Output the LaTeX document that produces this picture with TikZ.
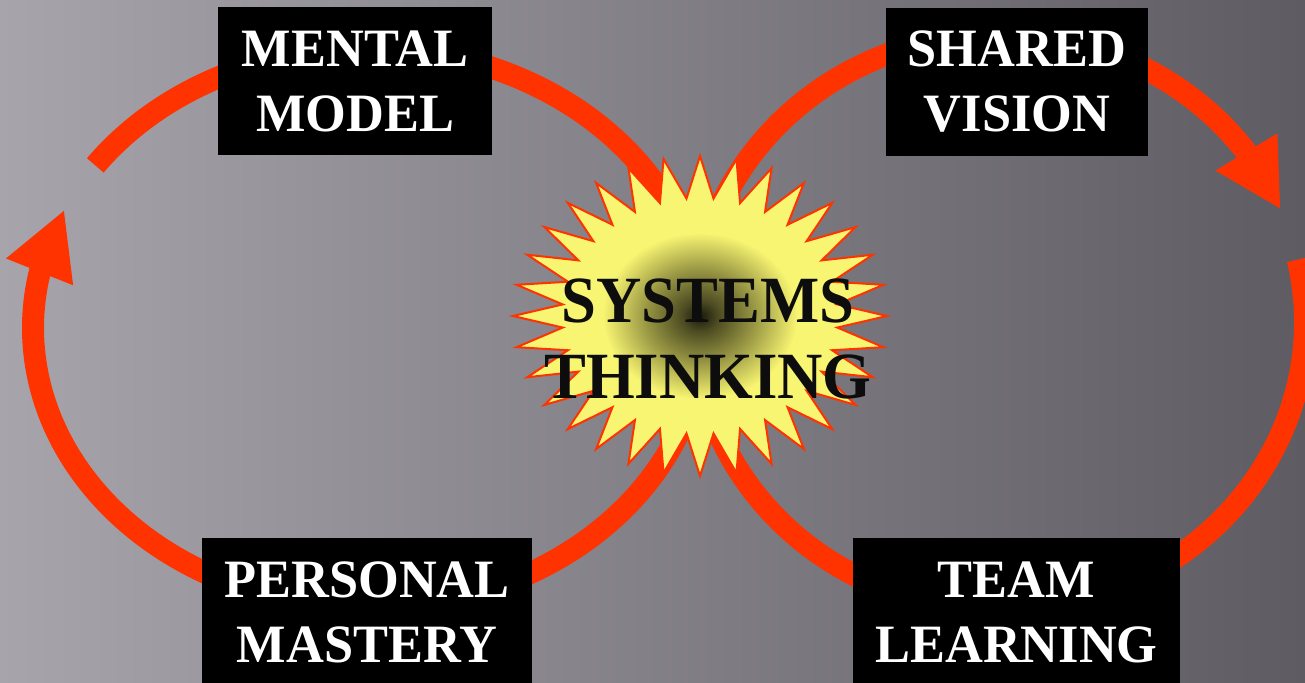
\documentclass[tikz,border=0pt]{standalone}
\usepackage{fontspec}
\setmainfont{Liberation Serif}
\newfontfamily\slidefont{Liberation Serif}[FakeStretch=0.97]
\newfontfamily\burstfont{Liberation Serif}[FakeStretch=0.95]
\usetikzlibrary{arrows.meta,bending}
\definecolor{loopred}{HTML}{FF3300}
\definecolor{burstyellow}{HTML}{F8F572}
\definecolor{burstolive}{HTML}{9C9A45}
\definecolor{burstcore}{HTML}{1A1A0C}
\definecolor{slidelight}{HTML}{A7A4AC}
\definecolor{slidemid}{HTML}{848188}
\definecolor{slidedark}{HTML}{5E5C62}
\pgfdeclareradialshading{burstglow}{\pgfpoint{0bp}{0bp}}{%
  color(0bp)=(burstcore); color(2.5bp)=(burstcore!60!burstolive);
  color(7.5bp)=(burstolive); color(13bp)=(burstyellow); color(50bp)=(burstyellow)}

\begin{document}
\begin{tikzpicture}[x=1pt,y=1pt,
    ring/.style={draw=loopred,line width=22pt},
    ringtip/.style={-{Triangle[length=67pt,width=67pt,flex]}},
    burst/.style={draw=loopred,line width=2pt,shading=burstglow},
    boxlabel/.style={fill=black,text=white,inner sep=0pt,align=center,minimum height=148pt,
      font=\slidefont\bfseries\fontsize{54}{65}\selectfont}]

    \useasboundingbox (0,0) rectangle (1305,682);
    \clip (0,0) rectangle (1305,682);
    \shade[left color=slidelight,middle color=slidemid,right color=slidedark] (0,0) rectangle (1305,682);

    \coordinate (L) at (368,354);
    \coordinate (R) at (1000,360);
    \coordinate (O) at (700,366);

    \draw[ring] ([shift={(144.5:335 and 280)}]L) arc[start angle=144.5,end angle=0,x radius=335,y radius=280];
    \draw[ring,ringtip] ([shift={(360:335 and 280)}]L) arc[start angle=360,end angle=155,x radius=335,y radius=280];
    \draw[ring,ringtip] ([shift={(180:305 and 288)}]R) arc[start angle=180,end angle=23,x radius=305,y radius=288];
    \draw[ring] ([shift={(12.5:305 and 288)}]R) arc[start angle=12.5,end angle=-180,x radius=305,y radius=288];

    \begin{scope}[shift={(O)}]
      \path[burst,shade,draw] (0:187 and 160) \foreach \a in {11.25,22.5,...,360} { -- ({\a-5.625}:138 and 118) -- (\a:187 and 160) } -- cycle;
    \end{scope}

    \node (C) at (708,343.5) [inner sep=0pt,align=center,text=black!95,font=\burstfont\bfseries\fontsize{66}{76}\selectfont] {SYSTEMS\\THINKING};

    \node[boxlabel,minimum width=274pt] (M) at (355,601)    {MENTAL\\MODEL};
    \node[boxlabel,minimum width=262pt] (S) at (1017,600)   {SHARED\\VISION};
    \node[boxlabel,minimum width=330pt] (P) at (367,70)     {PERSONAL\\MASTERY};
    \node[boxlabel,minimum width=327pt] (T) at (1016.5,70)  {TEAM\\LEARNING};
\end{tikzpicture}
\end{document}
